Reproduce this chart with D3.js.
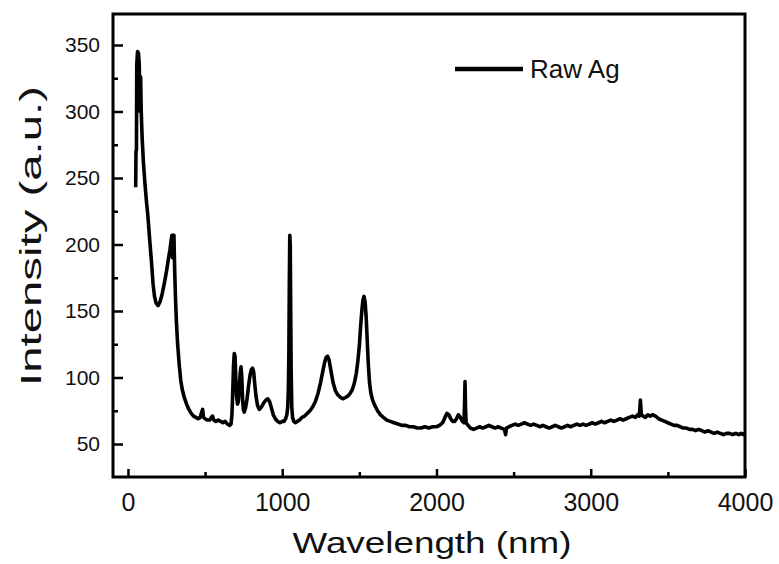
<!DOCTYPE html>
<html>
<head>
<meta charset="utf-8">
<script src="https://cdn.jsdelivr.net/npm/d3@7"></script>
<style>
  body { margin: 0; background: #fff; }
  text { font-family: "Liberation Sans", Arial, sans-serif; fill: #111; }
</style>
</head>
<body>
<svg id="chart" width="779" height="564"></svg>
<script>
// spectrum: [wavelength nm, intensity a.u.]
const spectrum = [
  [50,243],[52,270],[55,271],[57,335],[62,345],[68,344],[73,336],[78,300],[82,326],[86,300],
  [92,280],[100,262],[110,246],[120,232],[128,223],[140,205],[153,186],[163,170],[172,161],[182,156],
  [195,154],[208,157],[222,163],[236,171],[250,180],[262,189],[272,196],[280,203],[285,207],[289,190],
  [293,205],[298,207],[303,180],[308,160],[314,142],[322,125],[332,110],[342,98],[352,91],[365,85],
  [380,80],[395,76],[410,73],[425,71],[440,70],[455,69],[468,70],[478,74],[484,76],[490,70],
  [500,69],[515,68],[530,68],[540,70],[548,71],[556,68],[570,67],[585,68],[600,67],[615,66],
  [630,67],[645,65],[660,64],[668,65],[674,72],[679,88],[684,108],[689,118],[694,116],[699,100],
  [704,86],[710,80],[716,82],[722,92],[728,104],[733,108],[738,100],[743,84],[748,76],[754,74],
  [762,77],[772,84],[782,94],[792,102],[800,106],[808,107],[815,104],[822,95],[830,86],[840,79],
  [852,76],[866,78],[880,81],[894,83],[906,84],[918,82],[930,77],[942,72],[955,69],[970,67],
  [985,66],[1000,67],[1012,67],[1022,69],[1030,72],[1036,78],[1040,92],[1043,118],[1046,170],[1049,207],
  [1052,200],[1055,150],[1058,105],[1062,78],[1067,70],[1075,67],[1085,66],[1098,67],[1112,68],[1128,70],
  [1145,71],[1162,73],[1180,75],[1198,78],[1215,82],[1232,88],[1248,96],[1262,104],[1274,111],[1284,115],
  [1294,116],[1304,113],[1316,105],[1330,96],[1345,90],[1360,87],[1378,85],[1395,84],[1410,85],[1425,86],
  [1440,88],[1455,91],[1468,96],[1480,103],[1490,112],[1500,124],[1508,138],[1516,150],[1523,158],[1530,161],
  [1537,157],[1544,146],[1551,128],[1558,110],[1566,96],[1575,88],[1586,83],[1600,79],[1618,75],[1636,72],
  [1656,70],[1678,68],[1700,67],[1725,66],[1750,65],[1775,64],[1800,64],[1825,63],[1850,63],[1875,62],
  [1900,62],[1925,63],[1950,62],[1975,63],[2000,63],[2020,64],[2040,66],[2055,70],[2068,73],[2080,72],
  [2092,69],[2105,67],[2118,67],[2130,69],[2142,72],[2155,70],[2168,67],[2178,66],[2182,80],[2185,97],
  [2188,78],[2192,66],[2205,64],[2220,62],[2240,61],[2260,62],[2280,63],[2300,62],[2320,63],[2340,64],
  [2360,63],[2380,62],[2400,63],[2420,62],[2440,61],[2448,57],[2454,62],[2470,63],[2490,64],[2510,65],
  [2530,64],[2550,65],[2570,66],[2590,65],[2610,64],[2630,65],[2650,64],[2670,63],[2690,64],[2710,63],
  [2730,62],[2750,63],[2770,64],[2790,63],[2810,62],[2830,63],[2850,64],[2870,63],[2890,64],[2910,65],
  [2930,64],[2950,65],[2970,64],[2990,65],[3010,66],[3030,65],[3050,66],[3070,67],[3090,66],[3110,67],
  [3130,68],[3150,67],[3170,68],[3190,69],[3210,68],[3230,69],[3250,70],[3270,71],[3290,70],[3305,72],
  [3315,71],[3322,83],[3328,72],[3340,71],[3355,70],[3370,72],[3385,71],[3400,72],[3420,71],[3440,69],
  [3460,68],[3480,67],[3500,66],[3520,65],[3540,64],[3560,64],[3580,63],[3600,62],[3620,62],[3640,61],
  [3660,61],[3680,60],[3700,61],[3720,60],[3740,59],[3760,60],[3780,59],[3800,58],[3820,59],[3840,58],
  [3860,57],[3880,58],[3900,58],[3920,57],[3940,58],[3960,57],[3975,58],[3990,57],[4000,58]
]

const xMajor = [0, 1000, 2000, 3000, 4000]
const xMinor = [500, 1500, 2500, 3500]
const yMajor = [50, 100, 150, 200, 250, 300, 350]
const yMinor = [75, 125, 175, 225, 275, 325]
const seriesName = "Raw Ag"

const plot = { left: 113, right: 745, top: 14, bottom: 477 }

const svg = d3.select('#chart')

const x = d3.scaleLinear().domain([-97, 4000]).range([plot.left, plot.right])
const y = d3.scaleLinear().domain([25.2, 373.3]).range([plot.bottom, plot.top])

// ticks point inward
svg.append('g')
  .attr('transform', `translate(0,${plot.bottom})`)
  .call(d3.axisBottom(x).tickValues(xMajor).tickSize(-8).tickPadding(16).tickFormat(d3.format('d')))
  .call(g => g.select('.domain').remove())
  .call(g => g.selectAll('line').attr('stroke', '#000').attr('stroke-width', 2.5))
  .call(g => g.selectAll('text').attr('font-size', 25).attr('fill', '#222'))

svg.append('g')
  .attr('transform', `translate(0,${plot.bottom})`)
  .call(d3.axisBottom(x).tickValues(xMinor).tickSize(-5).tickFormat(''))
  .call(g => g.select('.domain').remove())
  .call(g => g.selectAll('line').attr('stroke', '#000').attr('stroke-width', 2.5))

svg.append('g')
  .attr('transform', `translate(${plot.left},0)`)
  .call(d3.axisLeft(y).tickValues(yMajor).tickSize(-10).tickPadding(13))
  .call(g => g.select('.domain').remove())
  .call(g => g.selectAll('line').attr('stroke', '#000').attr('stroke-width', 2.5))
  .call(g => g.selectAll('text').attr('font-size', 21).attr('fill', '#222'))

svg.append('g')
  .attr('transform', `translate(${plot.left},0)`)
  .call(d3.axisLeft(y).tickValues(yMinor).tickSize(-5).tickFormat(''))
  .call(g => g.select('.domain').remove())
  .call(g => g.selectAll('line').attr('stroke', '#000').attr('stroke-width', 2.5))

const line = d3.line()
  .x(d => x(d[0]))
  .y(d => y(d[1]))

svg.append('path')
  .datum(spectrum)
  .attr('d', line)
  .attr('fill', 'none')
  .attr('stroke', '#000')
  .attr('stroke-width', 3.6)
  .attr('stroke-linejoin', 'round')

// frame
svg.append('rect')
  .attr('x', plot.left).attr('y', plot.top)
  .attr('width', plot.right - plot.left).attr('height', plot.bottom - plot.top)
  .attr('fill', 'none')
  .attr('stroke', '#000')
  .attr('stroke-width', 3)

// legend
svg.append('line')
  .attr('x1', 455).attr('x2', 523)
  .attr('y1', 69).attr('y2', 69)
  .attr('stroke', '#000').attr('stroke-width', 4.5)
svg.append('text')
  .attr('x', 530).attr('y', 78)
  .attr('font-size', 26)
  .attr('fill', '#222')
  .text(seriesName)

// axis titles
svg.append('text')
  .attr('x', 432).attr('y', 553)
  .attr('text-anchor', 'middle')
  .attr('font-size', 29)
  .attr('fill', '#222')
  .attr('textLength', 279)
  .attr('lengthAdjust', 'spacingAndGlyphs')
  .text('Wavelength (nm)')

svg.append('text')
  .attr('transform', 'translate(41,236) rotate(-90)')
  .attr('text-anchor', 'middle')
  .attr('font-size', 29)
  .attr('fill', '#222')
  .attr('textLength', 300)
  .attr('lengthAdjust', 'spacingAndGlyphs')
  .text('Intensity (a.u.)')
</script>
</body>
</html>
